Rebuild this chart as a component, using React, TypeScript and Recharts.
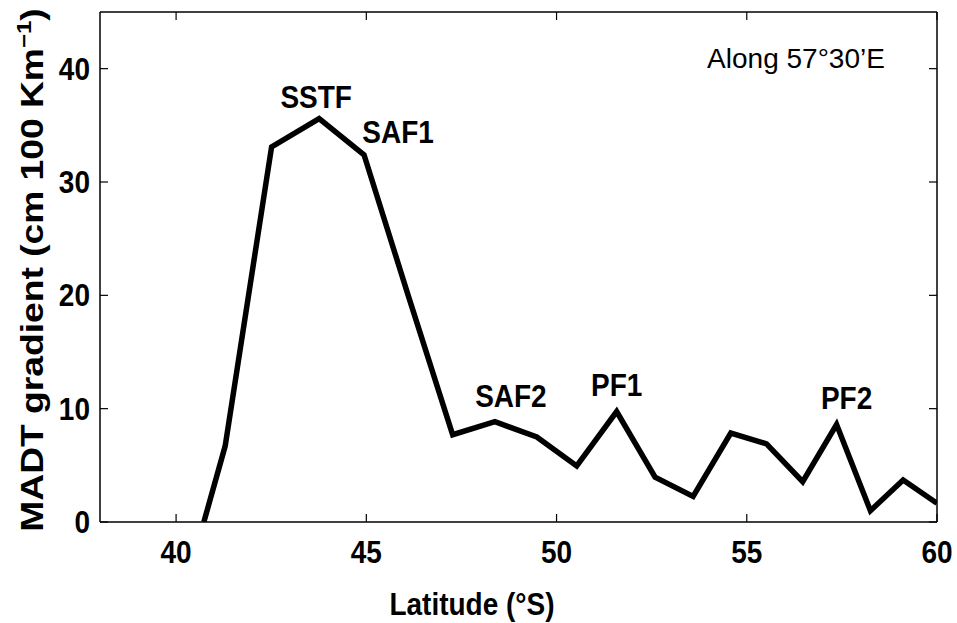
import { LineChart, Line, XAxis, YAxis, ReferenceLine, LabelList } from "recharts";

// values
const latitude = [40.73, 41.29, 42.51, 43.76, 44.94, 46.1, 47.27, 48.38, 49.48, 50.53, 51.58, 52.59, 53.59, 54.58, 55.52, 56.47, 57.36, 58.25, 59.11, 60.0];
const gradient = [0, 6.7, 33.1, 35.6, 32.4, 20.0, 7.7, 8.85, 7.5, 4.95, 9.75, 3.95, 2.25, 7.85, 6.9, 3.55, 8.6, 1.0, 3.7, 1.65];
const fronts = ["", "", "", "SSTF", "SAF1", "", "", "SAF2", "", "", "PF1", "", "", "", "", "", "PF2", "", "", ""];
const xTicks = [40, 45, 50, 55, 60];
const yTicks = [0, 10, 20, 30, 40];

const data = latitude.map((lat, i) => ({ lat, g: gradient[i], front: fronts[i] }));

const W = 957;
const H = 623;
const TOP = 12;
const LEFT = 100;
const RIGHT = 937;
const BOTTOM = 522;
const FONT = "'Liberation Sans', Arial, sans-serif";
const SY = 1.09; // the figure is a bit stretched vertically

// label offsets for the front names (px from the point)
const labelOffset: Record<string, [number, number]> = {
  SSTF: [-3, -11],
  SAF1: [34, -12],
  SAF2: [16, -15],
  PF1: [0, -16],
  PF2: [10, -16],
};

function Txt({ x, y, anchor = "middle", size = 28, bold = true, sy = SY, children }: any) {
  return (
    <text
      x={0}
      y={0}
      transform={`translate(${x} ${y}) scale(1 ${sy})`}
      textAnchor={anchor}
      fontFamily={FONT}
      fontWeight={bold ? "bold" : "normal"}
      fontSize={size}
      fill="#000"
    >
      {children}
    </text>
  );
}

function XTick(props: any) {
  const { x, payload } = props;
  return (
    <g>
      <line x1={x} x2={x} y1={BOTTOM} y2={BOTTOM - 8} stroke="#000" strokeWidth={1.2} />
      <line x1={x} x2={x} y1={TOP} y2={TOP + 8} stroke="#000" strokeWidth={1.2} />
      <Txt x={x} y={563}>{payload.value}</Txt>
    </g>
  );
}

function YTick(props: any) {
  const { y, payload } = props;
  return (
    <g>
      <line x1={LEFT} x2={LEFT + 8} y1={y} y2={y} stroke="#000" strokeWidth={1.2} />
      <line x1={RIGHT} x2={RIGHT - 8} y1={y} y2={y} stroke="#000" strokeWidth={1.2} />
      <Txt x={90} y={y + 11} anchor="end">{payload.value}</Txt>
    </g>
  );
}

function FrontLabel(props: any) {
  const { x, y, value } = props;
  if (!value) return null;
  const [dx, dy] = labelOffset[value] || [0, -12];
  return <Txt x={x + dx} y={y + dy}>{value}</Txt>;
}

export default function App() {
  return (
    <div style={{ position: "absolute", left: 0, top: 0, width: W, height: H, background: "#fff" }}>
      <LineChart width={W} height={H} data={data} margin={{ top: TOP, right: W - RIGHT, left: 0, bottom: 0 }}>
        <XAxis
          dataKey="lat"
          type="number"
          domain={[38, 60]}
          ticks={xTicks}
          tick={<XTick />}
          tickLine={false}
          axisLine={{ stroke: "#000", strokeWidth: 1.5 }}
          height={H - BOTTOM}
          allowDataOverflow
        />
        <YAxis
          type="number"
          domain={[0, 45]}
          ticks={yTicks}
          tick={<YTick />}
          tickLine={false}
          axisLine={{ stroke: "#000", strokeWidth: 1.5 }}
          width={LEFT}
          allowDataOverflow
        />
        <ReferenceLine y={45} stroke="#000" strokeWidth={1.5} />
        <ReferenceLine x={60} stroke="#000" strokeWidth={1.5} />
        <Line
          dataKey="g"
          type="linear"
          stroke="#000"
          strokeWidth={5.5}
          strokeLinejoin="miter"
          dot={false}
          isAnimationActive={false}
        >
          <LabelList dataKey="front" content={<FrontLabel />} />
        </Line>
        <Txt x={796} y={68} bold={false} sy={1}>
          Along 57°30’E
        </Txt>
        <Txt x={472} y={615}>Latitude (°S)</Txt>
        <text
          x={0}
          y={0}
          transform="translate(43 270) scale(1 1.2) rotate(-90)"
          textAnchor="middle"
          fontFamily={FONT}
          fontWeight="bold"
          fontSize={31}
          fill="#000"
        >
          MADT gradient (cm 100 Km
          <tspan dy={-12} fontSize={20}>−1</tspan>
          <tspan dy={12}>)</tspan>
        </text>
      </LineChart>
    </div>
  );
}
